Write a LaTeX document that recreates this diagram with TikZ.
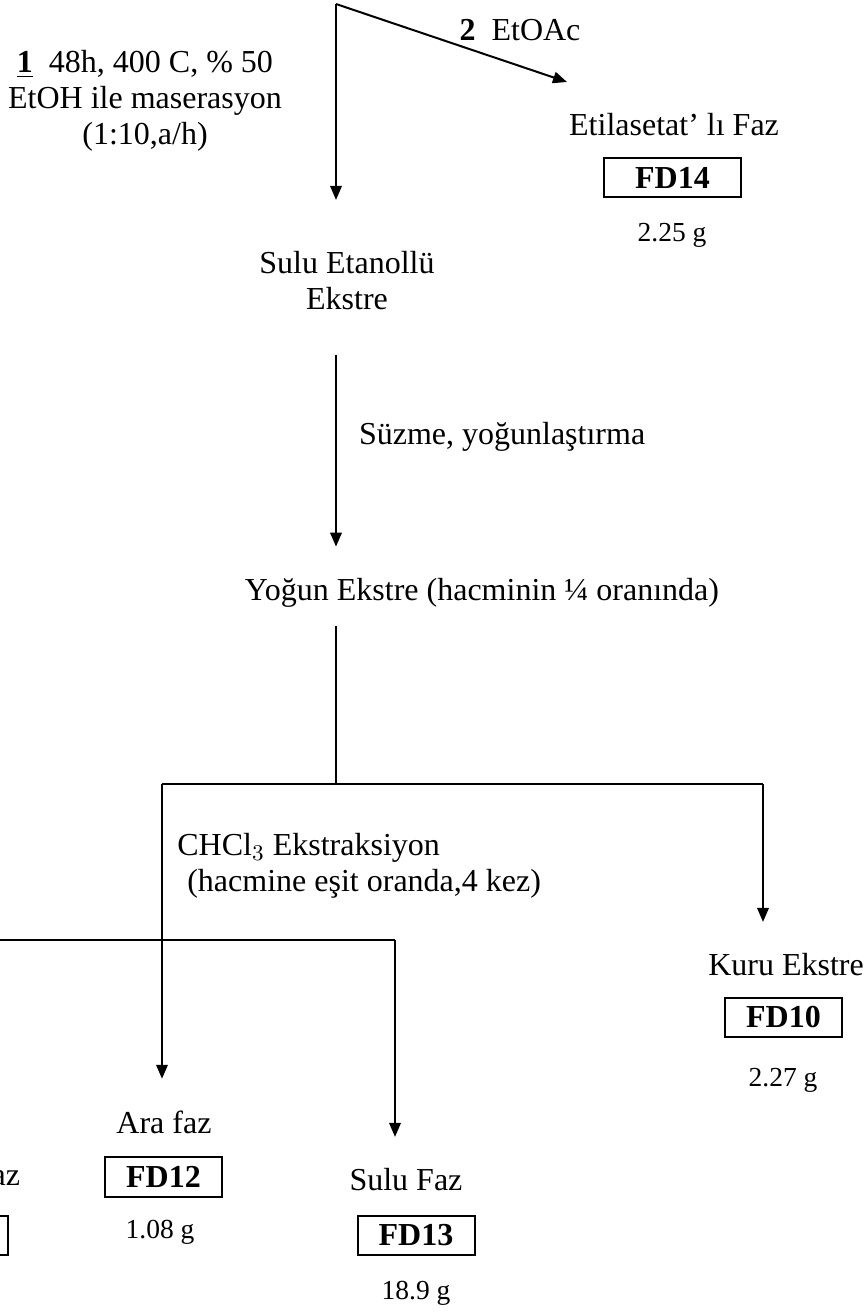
\documentclass[tikz,border=0pt]{standalone}
\usepackage{fontspec}
\setmainfont{Liberation Serif}
\usetikzlibrary{arrows.meta,positioning,calc}

\begin{document}
\begin{tikzpicture}
    [x=0.4pt,y=-0.4pt,
     line width=0.8pt,
     font=\fontsize{12.8}{14.4}\selectfont,
     >={Triangle[length=5.6pt,width=4.6pt]},
     into/.style={->,shorten >=9pt},
     phase/.style={align=center},
     fraction/.style={draw,line width=0.8pt,inner sep=0pt,minimum width=46.8pt,
       minimum height=15.6pt,font=\fontsize{12.8}{14.4}\selectfont\bfseries},
     yield/.style={font=\fontsize{11}{13}\selectfont}]
    \useasboundingbox (0,0) rectangle (866,1312);

    \coordinate (top) at (336,4);
    \coordinate (etoac) at (567,82);

    \node (step1) at (145,101) [phase] {\underline{\textbf{1}}\ \ 48h, 400 C, \% 50\\EtOH ile maserasyon\\(1:10,a/h)};
    \node (step2) at (520,30) {\textbf{2}\ \ EtOAc};

    \node (etil) at (674,125) {Etilasetat’ lı Faz};
    \node (fd14) at (672.5,177.5) [fraction,minimum width=54.8pt] {FD14};
    \node (w14) at (672,235) [yield] {2.25 g};

    \node (sulu) at (347,281) [phase] {Sulu Etanollü\\Ekstre};
    \node (suzme) at (358,437) [anchor=west,inner sep=0pt] {Süzme, yoğunlaştırma};
    \node (yogun) at (482,593) {Yoğun Ekstre (hacminin ¼ oranında)};

    \coordinate (mid) at (336,784);
    \coordinate (barl) at (162,784);
    \coordinate (barr) at (763,784);
    \coordinate (lowl) at (0,940);
    \coordinate (lowr) at (395,940);

    \node (chcl) at (168,866) [anchor=west,align=left] {CHCl$_3$ Ekstraksiyon\\\hspace*{4pt}(hacmine eşit oranda,4 kez)};

    \node (kuru) at (786,965) {Kuru Ekstre};
    \node (fd10) at (783.5,1017) [fraction] {FD10};
    \node (w10) at (783,1080) [yield] {2.27 g};

    \node (ara) at (164,1122) {Ara faz};
    \node (fd12) at (163.5,1177) [fraction,minimum height=16pt] {FD12};
    \node (w12) at (160,1232) [yield] {1.08 g};

    \node (sulufaz) at (406,1180) {Sulu Faz};
    \node (fd13) at (416,1235.5) [fraction] {FD13};
    \node (w13) at (416,1293) [yield] {18.9 g};

    \node (orgfaz) at (21,1178) [anchor=east,inner sep=0pt] {az};
    \node (fd11) at (9,1235) [fraction,anchor=east] {};

    \draw[->] (top) -- (etoac);
    \draw[into,shorten >=17pt] (top) -- (top |- sulu.north);
    \draw[into,shorten <=14pt] (top |- sulu.south) -- (top |- yogun.north);
    \draw[shorten <=3.6pt] (top |- yogun.south) -- (mid);
    \draw (barl) -- (barr);
    \draw[into] (barr) -- (barr |- kuru.north);
    \draw[into] (barl) -- (barl |- ara.north);
    \draw (lowl) -- (lowr);
    \draw[into] (lowr) -- (lowr |- sulufaz.north);
\end{tikzpicture}
\end{document}
